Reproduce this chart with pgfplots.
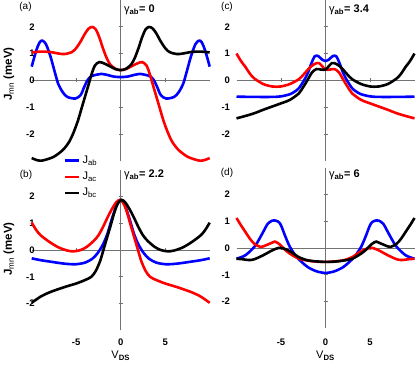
\documentclass[border=0pt]{standalone}
\usepackage{fontspec}
\setmainfont{Liberation Sans}
\usepackage{pgfplots}
\usepackage{pgfplotstable}
\pgfplotsset{compat=1.18}

% panel (a), gamma_ab = 0
\pgfplotstableread{
x y
-10 0.51
-9.5 1.1
-9.1 1.42
-8.8 1.48
-8.4 1.35
-7.9 0.9
-7.4 0.3
-7.0 -0.15
-6.5 -0.45
-6.0 -0.62
-5.1 -0.68
-4.5 -0.55
-4.1 -0.25
-3.7 0.02
-3.3 0.15
-2.7 0.21
-2.2 0.24
-1.5 0.2
-0.8 0.14
0 0.12
0.8 0.14
1.5 0.2
2.2 0.24
2.7 0.21
3.3 0.15
3.7 0.02
4.1 -0.25
4.5 -0.55
5.1 -0.68
6.0 -0.62
6.5 -0.45
7.0 -0.15
7.4 0.3
7.9 0.9
8.4 1.35
8.8 1.48
9.1 1.42
9.5 1.1
10 0.51
}\abA
\pgfplotstableread{
x y
-10 1.04
-9 1.07
-8 1.06
-7 1.0
-6.3 0.98
-5.5 1.05
-5 1.2
-4.5 1.45
-4 1.75
-3.6 1.93
-3.2 1.99
-2.8 1.9
-2.4 1.6
-2 1.2
-1.6 0.85
-1.2 0.6
-0.6 0.43
0 0.38
0.6 0.42
1.2 0.52
1.8 0.62
2.4 0.68
2.9 0.55
3.3 0.2
3.6 -0.15
4.0 -0.6
4.4 -1.05
4.8 -1.5
5.3 -1.95
5.8 -2.3
6.5 -2.6
7.5 -2.85
8.5 -2.97
9.0 -3.0
9.5 -2.97
10 -2.9
}\acA
\pgfplotstableread{
x y
-10 -2.9
-9.5 -2.97
-9.0 -3.0
-8.5 -2.97
-7.5 -2.85
-6.5 -2.6
-5.8 -2.3
-5.3 -1.95
-4.8 -1.5
-4.4 -1.05
-4.0 -0.6
-3.6 -0.15
-3.3 0.2
-2.9 0.55
-2.4 0.68
-1.8 0.62
-1.2 0.52
-0.6 0.42
0 0.38
0.6 0.43
1.2 0.6
1.6 0.85
2 1.2
2.4 1.6
2.8 1.9
3.2 1.99
3.6 1.93
4 1.75
4.5 1.45
5 1.2
5.5 1.05
6.3 0.98
7 1.0
8 1.06
9 1.07
10 1.04
}\bcA

% panel (b), gamma_ab = 2.2
\pgfplotstableread{
x y
-10 -0.31
-9 -0.38
-8 -0.43
-7 -0.48
-6 -0.52
-5 -0.53
-4 -0.47
-3.2 -0.33
-2.6 -0.12
-2.0 0.2
-1.5 0.6
-1.0 1.15
-0.6 1.55
-0.3 1.78
0 1.87
0.3 1.78
0.6 1.55
1.0 1.15
1.5 0.6
2.0 0.2
2.6 -0.12
3.2 -0.33
4 -0.47
5 -0.53
6 -0.52
7 -0.48
8 -0.43
9 -0.38
10 -0.31
}\abB
\pgfplotstableread{
x y
-10 1.02
-9.5 0.75
-9 0.55
-8 0.3
-7 0.1
-6 -0.02
-5.3 -0.05
-4.5 0
-3.8 0.12
-3 0.35
-2.5 0.55
-2 0.85
-1.5 1.2
-1 1.52
-0.5 1.78
-0.1 1.87
0.3 1.75
0.7 1.42
1.1 0.95
1.5 0.5
1.9 0.05
2.3 -0.4
2.8 -0.78
3.3 -1.0
4 -1.12
5 -1.25
6 -1.35
7 -1.46
8 -1.58
9 -1.74
10 -1.97
}\acB
\pgfplotstableread{
x y
-10 -1.97
-9 -1.74
-8 -1.58
-7 -1.46
-6 -1.35
-5 -1.25
-4 -1.12
-3.3 -1.0
-2.8 -0.78
-2.3 -0.4
-1.9 0.05
-1.5 0.5
-1.1 0.95
-0.7 1.42
-0.3 1.75
0.1 1.87
0.5 1.78
1 1.52
1.5 1.2
2 0.85
2.5 0.55
3 0.35
3.8 0.12
4.5 0
5.3 -0.05
6 -0.02
7 0.1
8 0.3
9 0.55
9.5 0.75
10 1.02
}\bcB

% panel (c), gamma_ab = 3.4
\pgfplotstableread{
x y
-10 -0.61
-8 -0.62
-6 -0.62
-5 -0.6
-4 -0.52
-3.5 -0.43
-3 -0.3
-2.5 -0.05
-2 0.26
-1.6 0.62
-1.2 0.9
-0.8 0.9
-0.4 0.78
0 0.72
0.4 0.78
0.8 0.9
1.2 0.9
1.6 0.62
2 0.26
2.5 -0.05
3 -0.3
3.5 -0.43
4 -0.52
5 -0.6
6 -0.62
8 -0.62
10 -0.61
}\abC
\pgfplotstableread{
x y
-10 1.0
-9.5 0.72
-9 0.5
-8.5 0.25
-8 0.07
-7 -0.14
-6 -0.23
-5.5 -0.24
-5 -0.23
-4 -0.14
-3 0.04
-2.5 0.2
-2 0.39
-1.5 0.55
-1 0.64
-0.7 0.64
-0.3 0.5
0 0.4
0.5 0.4
1 0.42
1.5 0.3
2 0.02
2.5 -0.25
3 -0.49
4 -0.73
5 -0.86
6 -0.98
7 -1.1
8 -1.23
9 -1.33
10 -1.42
}\acC
\pgfplotstableread{
x y
-10 -1.42
-9 -1.33
-8 -1.23
-7 -1.1
-6 -0.98
-5 -0.86
-4 -0.73
-3 -0.49
-2.5 -0.25
-2 0.02
-1.5 0.3
-1 0.42
-0.5 0.4
0 0.4
0.3 0.5
0.7 0.64
1 0.64
1.5 0.55
2 0.39
2.5 0.2
3 0.04
4 -0.14
5 -0.23
5.5 -0.24
6 -0.23
7 -0.14
8 0.07
8.5 0.25
9 0.5
9.5 0.72
10 1.0
}\bcC

% panel (d), gamma_ab = 6
\pgfplotstableread{
x y
-10 -0.4
-9 -0.27
-8 0.04
-7.5 0.3
-7 0.6
-6.5 0.9
-6 1.02
-5.7 1.03
-5.3 0.98
-5 0.85
-4.5 0.42
-4 0.04
-3.5 -0.22
-3 -0.42
-2 -0.71
-1 -0.87
0 -0.93
1 -0.87
2 -0.71
3 -0.42
3.5 -0.22
4 0.04
4.5 0.42
5 0.85
5.3 0.98
5.7 1.03
6 1.02
6.5 0.9
7 0.6
7.5 0.3
8 0.04
9 -0.27
10 -0.4
}\abD
\pgfplotstableread{
x y
-10 1.12
-9.5 0.85
-9 0.6
-8.5 0.35
-8 0.16
-7.3 0.04
-6.7 0.1
-6 0.2
-5.7 0.24
-5.2 0.15
-4.6 -0.05
-4 -0.21
-3 -0.4
-2 -0.47
-1 -0.51
0 -0.52
1 -0.5
2 -0.46
3 -0.34
4 -0.12
4.7 -0.02
5.3 0.0
6 -0.09
7 -0.27
8 -0.42
8.6 -0.45
9.3 -0.42
10 -0.4
}\acD
\pgfplotstableread{
x y
-10 -0.4
-9.3 -0.42
-8.6 -0.45
-8 -0.42
-7 -0.27
-6 -0.09
-5.3 0.0
-4.7 -0.02
-4 -0.12
-3 -0.34
-2 -0.46
-1 -0.5
0 -0.52
1 -0.51
2 -0.47
3 -0.4
4 -0.21
4.6 -0.05
5.2 0.15
5.7 0.24
6 0.2
6.7 0.1
7.3 0.04
8 0.16
8.5 0.35
9 0.6
9.5 0.85
10 1.12
}\bcD

\pgfplotsset{
  panel/.style={
    scale only axis, width=178pt, height=160.8pt,
    xmin=-10, xmax=10, ymin=-3, ymax=3,
    axis lines=middle,
    axis line style={-, black!55, line width=0.9pt},
    xtick={-5,0,5}, ytick={-2,-1,0,1,2},
    tick align=center, major tick length=4pt,
    tick style={black!55, line width=0.7pt},
    hide obscured x ticks=false, hide obscured y ticks=false,
    clip=false,
    tick label style={font=\fontsize{9.5}{11}\selectfont\bfseries},
    /pgf/number format/assume math mode=true,
    every axis plot/.append style={line width=2.6pt, smooth},
  },
}

\begin{document}
\begin{tikzpicture}
\useasboundingbox (0,0) rectangle (416pt,368pt);

% (a)
\begin{axis}[panel, at={(31.7pt,207.3pt)}, anchor=south west,
  xticklabels={}, yticklabel style={xshift=-80.5pt}]
\addplot[blue] table {\abA};
\addplot[red] table {\acA};
\addplot[black] table {\bcA};
\end{axis}

% (b)
\begin{axis}[panel, at={(31.7pt,37.6pt)}, anchor=south west,
  yticklabel style={xshift=-80.5pt}, xticklabel style={yshift=-83pt},
  legend style={at={(0.18,1.097)}, anchor=north west, draw=none, fill=none,
    font=\fontsize{11}{13}\selectfont, row sep=3pt, inner sep=0pt},
  legend cell align=left,
  legend image code/.code={\draw[#1, line width=2.6pt, sharp plot] (0pt,0pt) -- (14pt,0pt);}]
\addplot[blue] table {\abB};
\addlegendentry{J\textsubscript{ab}}
\addplot[red] table {\acB};
\addlegendentry{J\textsubscript{ac}}
\addplot[black] table {\bcB};
\addlegendentry{J\textsubscript{bc}}
\end{axis}

% (c)
\begin{axis}[panel, at={(236.5pt,207.3pt)}, anchor=south west,
  xticklabels={}, yticklabel style={xshift=-90pt}]
\addplot[blue] table {\abC};
\addplot[red] table {\acC};
\addplot[black] table {\bcC};
\end{axis}

% (d)
\begin{axis}[panel, at={(236.5pt,39.6pt)}, anchor=south west,
  yticklabel style={xshift=-90pt}, xticklabel style={yshift=-85pt}]
\addplot[blue] table {\abD};
\addplot[red] table {\acD};
\addplot[black] table {\bcD};
\end{axis}

% panel letters and gamma titles
\begin{scope}[every node/.style={inner sep=0pt}]
\node at (25.5pt,361pt) {\fontsize{10}{12}\selectfont (a)};
\node at (26pt,193pt) {\fontsize{10}{12}\selectfont (b)};
\node at (227pt,361pt) {\fontsize{10}{12}\selectfont (c)};
\node at (227pt,195pt) {\fontsize{10}{12}\selectfont (d)};
\node[anchor=west] at (124pt,358pt) {\fontsize{11}{13}\selectfont γ\textsubscript{\bfseries ab}\textbf{= 0}};
\node[anchor=west] at (124pt,193pt) {\fontsize{11}{13}\selectfont γ\textsubscript{\bfseries ab}\textbf{= 2.2}};
\node[anchor=west] at (329pt,358pt) {\fontsize{11}{13}\selectfont γ\textsubscript{\bfseries ab}\textbf{= 3.4}};
\node[anchor=west] at (329pt,193pt) {\fontsize{11}{13}\selectfont γ\textsubscript{\bfseries ab}\textbf{= 6}};
% axis labels
\node[rotate=90] at (9pt,294pt) {\fontsize{11.5}{13}\selectfont\bfseries J\textsubscript{\mdseries mn} (meV)};
\node[rotate=90] at (9pt,119pt) {\fontsize{11.5}{13}\selectfont\bfseries J\textsubscript{\mdseries mn} (meV)};
\node at (120.7pt,12pt) {\fontsize{11}{13}\selectfont V\textsubscript{\bfseries DS}};
\node at (325.5pt,12pt) {\fontsize{11}{13}\selectfont V\textsubscript{\bfseries DS}};
\end{scope}
\end{tikzpicture}
\end{document}
